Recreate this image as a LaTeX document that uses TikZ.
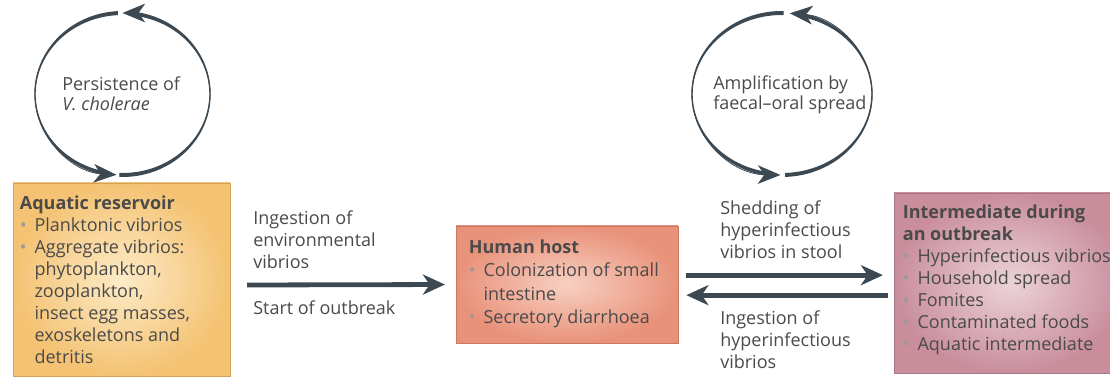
\documentclass[tikz,border=0pt]{standalone}
\usepackage{fontspec}
\setmainfont{Open Sans}
\usetikzlibrary{positioning,arrows.meta,calc}
\definecolor{flowgray}{HTML}{3C4953}
\definecolor{txtgray}{HTML}{4A4A4A}
\definecolor{bulgray}{HTML}{9A9A9A}
\definecolor{resin}{HTML}{FDEBC8}
\definecolor{resout}{HTML}{F4C272}
\definecolor{resedge}{HTML}{D2A35A}
\definecolor{hostin}{HTML}{F7D0C2}
\definecolor{hostout}{HTML}{E9927A}
\definecolor{hostedge}{HTML}{C97866}
\definecolor{midin}{HTML}{ECD3D9}
\definecolor{midout}{HTML}{C98D9C}
\definecolor{midedge}{HTML}{A97787}
\newcommand{\bul}{\makebox[11pt][l]{\textcolor{bulgray}{\textbullet}}}
\newcommand{\ind}{\hspace*{11pt}}
\tikzset{
    box/.style={rectangle,line width=0.6pt,inner sep=0pt},
    reservoir/.style={box,draw=resedge,inner color=resin,outer color=resout},
    hostbox/.style={box,draw=hostedge,inner color=hostin,outer color=hostout},
    midbox/.style={box,draw=midedge,inner color=midin,outer color=midout},
    boxtext/.style={anchor=north west,align=left,inner sep=0pt,text=txtgray,
        font=\fontsize{13.5}{16.5}\selectfont},
    lbl/.style={anchor=west,align=left,inner sep=0pt,text=txtgray,
        font=\fontsize{13.5}{16.5}\selectfont},
    looplbl/.style={lbl,font=\fontsize{13.5}{15}\selectfont},
    flow/.style={draw=flowgray,line width=3.6pt,-{Stealth[length=16.5pt,width=15pt,inset=5pt]}},
    looptip/.style={draw=flowgray,line width=0.6pt,-{Stealth[length=17pt,width=14pt,inset=5pt]}},
}

\begin{document}
\begin{tikzpicture}[x=0.75pt,y=0.75pt]
    \useasboundingbox (0,0) rectangle (1110,378);

    % boxes
    \node[reservoir,minimum width=162.75pt,minimum height=144.75pt] (res) at (121.5,98.5) {};
    \node[hostbox,minimum width=166.5pt,minimum height=87.75pt] (host) at (567,93.5) {};
    \node[midbox,minimum width=173.25pt,minimum height=135pt] (inter) at (1009.5,95) {};

    \node[boxtext] (restext) at ([shift={(7,-13)}]res.north west)
        {\textbf{Aquatic reservoir}\\
         \bul Planktonic vibrios\\
         \bul Aggregate vibrios:\\
         \ind phytoplankton,\\
         \ind zooplankton,\\
         \ind insect egg masses,\\
         \ind exoskeletons and\\
         \ind detritis};
    \node[boxtext,font=\fontsize{13.5}{17.5}\selectfont] (hosttext) at ([shift={(13,-14)}]host.north west)
        {\textbf{Human host}\\
         \bul Colonization of small\\
         \ind intestine\\
         \bul Secretory diarrhoea};
    \node[boxtext] (intertext) at ([shift={(9,-12)}]inter.north west)
        {\textbf{Intermediate during}\\
         \textbf{an outbreak}\\
         \bul Hyperinfectious vibrios\\
         \bul Household spread\\
         \bul Fomites\\
         \bul Contaminated foods\\
         \bul Aquatic intermediate};

    % connectors
    \coordinate (ing) at (247,93);
    \draw[flow,shorten >=8pt] (ing) -- (host.west);
    \draw[flow,shorten <=6pt,shorten >=8pt] ([yshift=7pt]host.east) -- ([yshift=7pt]host.east -| inter.west);
    \draw[flow,shorten <=4.5pt,shorten >=6pt] ([yshift=-8pt]host.east -| inter.west) -- ([yshift=-8pt]host.east);

    \node[lbl] (envlbl) at (253,138) {Ingestion of\\environmental\\vibrios};
    \node[lbl] (startlbl) at (253,70) {Start of outbreak};
    \node[lbl] (shedlbl) at (720,148) {Shedding of\\hyperinfectious\\vibrios in stool};
    \node[lbl] (hyplbl) at (720,38) {Ingestion of\\hyperinfectious\\vibrios};

    % cycles
    \foreach \cx/\rx/\sa/\ea/\sb/\eb in {122.5/87.5/93/266/268/450, 782/90/89/269/272/445} {
        \coordinate (c) at (\cx,284);
        \pgfmathsetmacro\rxo{\rx+0.7}
        \pgfmathsetmacro\rxi{\rx-0.7}
        \foreach \s/\e in {\sa/\ea,\sb/\eb} {
            \pgfmathsetmacro\em{\e-8}
            \fill[flowgray] ($(c)+({\rxo*cos(\s)},{83*sin(\s)})$) arc[start angle=\s,end angle=\em,x radius=\rxo,y radius=83]
                -- ($(c)+({\rxi*cos(\em)},{79*sin(\em)})$) arc[start angle=\em,end angle=\s,x radius=\rxi,y radius=79] -- cycle;
            \draw[looptip] ($(c)+({\rx*cos(\s)},{81*sin(\s)})$) arc[start angle=\s,end angle=\e,x radius=\rx,y radius=81];
        }
    }
    \node[looplbl] (persist) at (62,284) {Persistence of\\\textit{V. cholerae}};
    \node[looplbl] (amplif) at (713,283) {Amplification by\\faecal--oral spread};
\end{tikzpicture}
\end{document}
